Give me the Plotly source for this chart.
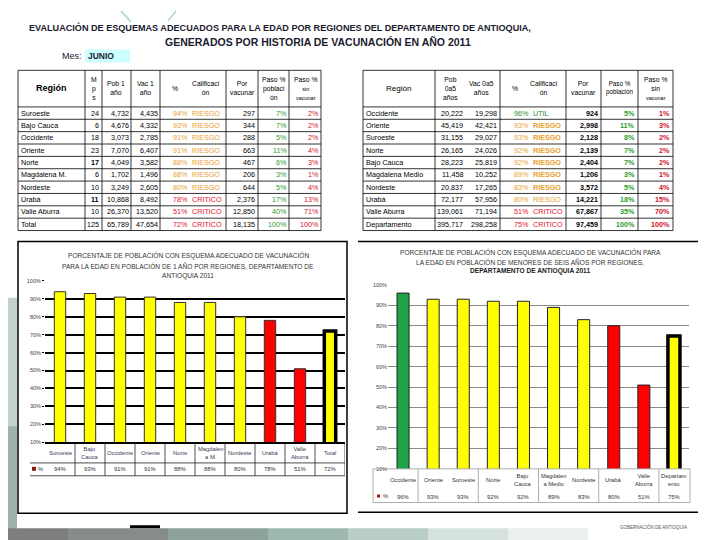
import plotly.graph_objects as go

# ---------------- DATA ----------------
t1_regions = ["Suroeste", "Bajo Cauca", "Occidente", "Oriente", "Norte", "Magdalena M.",
              "Nordeste", "Urabá", "Valle Aburra", "Total"]
t1_mps = [24, 6, 18, 23, 17, 6, 10, 11, 10, 125]
t1_pob = [4732, 4676, 3073, 7070, 4049, 1702, 3249, 10868, 26370, 65789]
t1_vac = [4435, 4332, 2785, 6407, 3582, 1496, 2605, 8492, 13520, 47654]
t1_pct = [94, 93, 91, 91, 88, 88, 80, 78, 51, 72]
t1_calif = ["RIESGO"] * 7 + ["CRITICO"] * 3
t1_porvac = [297, 344, 288, 663, 467, 206, 644, 2376, 12850, 18135]
t1_pasopob = [7, 7, 5, 11, 6, 3, 5, 17, 40, 100]
t1_pasosin = [2, 2, 2, 4, 3, 1, 4, 13, 71, 100]

t2_regions = ["Occidente", "Oriente", "Suroeste", "Norte", "Bajo Cauca", "Magdalena Medio",
              "Nordeste", "Urabá", "Valle Aburra", "Departamento"]
t2_pob = [20222, 45419, 31155, 26165, 28223, 11458, 20837, 72177, 139061, 395717]
t2_vac = [19298, 42421, 29027, 24026, 25819, 10252, 17265, 57956, 71194, 298258]
t2_pct = [96, 93, 93, 92, 92, 89, 83, 80, 51, 75]
t2_calif = ["UTIL"] + ["RIESGO"] * 7 + ["CRITICO"] * 2
t2_porvac = [924, 2998, 2128, 2139, 2404, 1206, 3572, 14221, 67867, 97459]
t2_pasopob = [5, 11, 8, 7, 7, 3, 5, 18, 35, 100]
t2_pasosin = [1, 3, 2, 2, 2, 1, 4, 15, 70, 100]

c1_categories = ["Suroeste", "Bajo Cauca", "Occidente", "Oriente", "Norte", "Magdalena M.",
                 "Nordeste", "Urabá", "Valle Aburra", "Total"]
c1_labels = ["Suroeste", "Bajo<br>Cauca", "Occidente", "Oriente", "Norte", "Magdalen<br>a M.",
             "Nordeste", "Urabá", "Valle<br>Aburra", "Total"]
c1_values = [94, 93, 91, 91, 88, 88, 80, 78, 51, 72]

c2_categories = ["Occidente", "Oriente", "Suroeste", "Norte", "Bajo Cauca", "Magdalena Medio",
                 "Nordeste", "Urabá", "Valle Aburra", "Departamento"]
c2_labels = ["Occidente", "Oriente", "Suroeste", "Norte", "Bajo<br>Cauca", "Magdalen<br>a Medio",
             "Nordeste", "Urabá", "Valle<br>Aburra", "Departam<br>ento"]
c2_values = [96, 93, 93, 92, 92, 89, 83, 80, 51, 75]

# ---------------- STYLE ----------------
W, H = 720, 540
FN = "Liberation Sans, Arial, sans-serif"
YEL, RED, GRN = "#FFFF00", "#FF0000", "#1FA347"
c1_colors = [YEL] * 7 + [RED] * 2 + [YEL]
c2_colors = [GRN] + [YEL] * 6 + [RED] * 2 + [YEL]
ORANGE, CRIT, UTIL = "#E8A030", "#E3102E", "#1E8C1E"
PGREEN, PRED = "#2E9B2E", "#D3102A"
calif_color = {"RIESGO": ORANGE, "CRITICO": CRIT, "UTIL": UTIL}
TS = 7.2   # table font size
HS = 6.8   # table header font size


def px(x):
    return x / W


def py(y):
    return 1 - y / H


ann = []
shp = []


def txt(x, y, s, size=TS, color="black", anchor="center", bold=False, family=FN, **kw):
    if bold:
        s = "<b>" + s + "</b>"
    d = dict(x=px(x), y=py(y), xref="paper", yref="paper", text=s, showarrow=False,
             xanchor=anchor, yanchor="middle", font=dict(size=size, color=color, family=family),
             borderpad=0)
    d.update(kw)
    ann.append(d)


def line(x0, y0, x1, y1, color="black", width=1, layer="above"):
    shp.append(dict(type="line", xref="paper", yref="paper", x0=px(x0), y0=py(y0),
                    x1=px(x1), y1=py(y1), line=dict(color=color, width=width), layer=layer))


def rect(x0, y0, x1, y1, fill, color=None, width=0, layer="below"):
    shp.append(dict(type="rect", xref="paper", yref="paper", x0=px(x0), y0=py(y0),
                    x1=px(x1), y1=py(y1), fillcolor=fill,
                    line=dict(color=color or fill, width=width), layer=layer))


# ---------------- background decoration ----------------
rect(0, 290, 9, 540, "#c3d1ce")
rect(0, 420, 9, 540, "#9db2ad")
bands = [(0, 60, "#7c7f7d"), (60, 160, "#878c8a"), (160, 260, "#8ea29d"), (260, 340, "#9db8b0"),
         (340, 420, "#b9cdc7"), (420, 500, "#d6e2de"), (500, 580, "#eaf0ee")]
for a, b, c in bands:
    rect(a, 523, b, 540, c)
rect(122, 520, 152, 523, "black", layer="above")
txt(645, 522, "GOBERNACIÓN DE ANTIOQUIA", size=4.5, color="#555")
line(113, 0, 123, 11, color="#a8d4d2", width=1.5, layer="below")
line(168, 0, 160, 10, color="#a8d4d2", width=1.5, layer="below")

# ---------------- titles ----------------
TC = "#1b1b2f"
txt(272, 17, "EVALUACIÓN DE ESQUEMAS ADECUADOS PARA LA EDAD POR REGIONES DEL DEPARTAMENTO DE ANTIOQUIA,",
    size=9.1, color=TC, bold=True)
txt(310, 31, "GENERADOS POR HISTORIA DE VACUNACIÓN EN AÑO 2011", size=10.5, color=TC, bold=True)
rect(77, 39, 122, 52, "#CCFFFF")
txt(75, 45.5, "Mes:", size=9, color=TC, anchor="right")
txt(79, 45.5, "JUNIO", size=8.5, color=TC, anchor="left", bold=True)

# ---------------- tables ----------------
TOP, HB, RH = 60, 97, 12.5
rows_y = [HB + RH * (i + 0.5) for i in range(10)]
BOT = HB + RH * 10


def pct(v):
    return f"{v}%"


def num(v):
    return f"{v:,}"


# left table grid
for xe in [10, 77, 94, 123, 152, 218, 250, 281, 313]:
    line(xe, TOP, xe, BOT, width=0.8)
for ye in [TOP, HB] + [HB + RH * k for k in range(1, 11)]:
    line(10, ye, 313, ye, width=0.8)

txt(43, 78, "Región", size=9, bold=True)
txt(85.5, 78, "M<br>p<br>s", size=HS)
txt(108, 78, "Pob 1<br>año", size=HS)
txt(137.5, 78, "Vac 1<br>año", size=HS)
txt(167, 78, "%", size=HS)
txt(198, 78, "Calificaci<br>ón", size=HS)
txt(234, 78, "Por<br>vacunar", size=HS)
txt(265.5, 78, "Paso %<br>poblaci<br>ón", size=HS)
txt(297, 78, "Paso %<br><span style='font-size:5.5px'>sin<br>vacunar</span>", size=HS)

for i, yy in enumerate(rows_y):
    txt(12, yy, t1_regions[i], anchor="left")
    txt(92, yy, str(t1_mps[i]), anchor="right", bold=(t1_regions[i] in ("Norte", "Urabá")))
    txt(121.5, yy, num(t1_pob[i]), anchor="right")
    txt(150.5, yy, num(t1_vac[i]), anchor="right")
    cc = calif_color[t1_calif[i]]
    txt(181, yy, pct(t1_pct[i]), anchor="right", color=cc)
    txt(183, yy, t1_calif[i], anchor="left", color=cc)
    txt(248, yy, num(t1_porvac[i]), anchor="right")
    txt(279.5, yy, pct(t1_pasopob[i]), anchor="right", color=PGREEN)
    txt(311.5, yy, pct(t1_pasosin[i]), anchor="right", color=PRED)

# right table grid
for xe in [355, 427, 492, 558, 593, 630, 665]:
    line(xe, TOP, xe, BOT, width=0.8)
for ye in [TOP, HB] + [HB + RH * k for k in range(1, 11)]:
    line(355, ye, 665, ye, width=0.8)

txt(391, 78, "Región", size=8)
txt(442, 78, "Pob<br>0a5<br>años", size=HS)
txt(473, 78, "Vac 0a5<br>años", size=HS)
txt(507, 78, "%", size=HS)
txt(536, 78, "Calificaci<br>ón", size=HS)
txt(575.5, 78, "Por<br>vacunar", size=HS)
txt(611.5, 78, "Paso %<br>población", size=6.3)
txt(647.5, 78, "Paso %<br>sin<br><span style='font-size:5.5px'>vacunar</span>", size=HS)

for i, yy in enumerate(rows_y):
    txt(357, yy, t2_regions[i], anchor="left")
    txt(456, yy, num(t2_pob[i]), anchor="right")
    txt(490, yy, num(t2_vac[i]), anchor="right")
    cc = calif_color[t2_calif[i]]
    txt(522, yy, pct(t2_pct[i]), anchor="right", color=cc)
    txt(524, yy, t2_calif[i], anchor="left", color=cc, bold=(t2_calif[i] == "RIESGO" and i < 7))
    txt(591, yy, num(t2_porvac[i]), anchor="right", bold=True)
    txt(628, yy, pct(t2_pasopob[i]), anchor="right", color=PGREEN, bold=True)
    txt(663, yy, pct(t2_pasosin[i]), anchor="right", color=PRED, bold=True)

# ---------------- chart frames and titles ----------------
rect(10, 233, 339, 508, "rgba(0,0,0,0)", color="black", width=1.5, layer="above")
line(350, 233, 690, 233, width=1.5)
line(350, 507, 690, 507, width=1.5)

CT = 6.6
txt(180, 247, "PORCENTAJE DE POBLACIÓN CON ESQUEMA ADECUADO DE VACUNACIÓN", size=CT, color="#333")
txt(180, 258, "PARA LA EDAD EN POBLACIÓN DE 1 AÑO POR REGIONES, DEPARTAMENTO DE", size=CT, color="#333")
txt(180, 268, "ANTIOQUIA 2011", size=CT, color="#333")
txt(522, 244, "PORCENTAJE DE POBLACIÓN CON ESQUEMA ADECUADO DE VACUNACIÓN PARA", size=CT, color="#333")
txt(522, 253.5, "LA EDAD EN POBLACIÓN DE MENORES DE SEIS AÑOS POR REGIONES,", size=CT, color="#333")
txt(522, 263, "DEPARTAMENTO DE ANTIOQUIA 2011", size=CT, color="#222", bold=True)

# ---------------- bars ----------------
fig = go.Figure()
fig.add_trace(go.Bar(x=c1_categories, y=c1_values, xaxis="x", yaxis="y", width=0.38,
                     marker=dict(color=c1_colors, line=dict(color=["#333"] * 9 + ["black"],
                                                            width=[1] * 9 + [3.5])),
                     showlegend=False, hoverinfo="x+y"))
fig.add_trace(go.Bar(x=c2_categories, y=c2_values, xaxis="x2", yaxis="y2", width=0.4,
                     marker=dict(color=c2_colors, line=dict(color=["#222"] * 9 + ["black"],
                                                            width=[1] * 9 + [3.5])),
                     showlegend=False, hoverinfo="x+y"))

# data tables under the charts (positioned with category axes)
for i, cat in enumerate(c1_categories):
    ann.append(dict(x=cat, xref="x", y=py(447), yref="paper", text=c1_labels[i], showarrow=False,
                    font=dict(size=5.8, color="#3a3a5a", family=FN), yanchor="middle"))
    ann.append(dict(x=cat, xref="x", y=py(463.5), yref="paper", text=pct(c1_values[i]), showarrow=False,
                    font=dict(size=5.8, color="#333", family=FN), yanchor="middle"))
for k in range(10):
    shp.append(dict(type="line", xref="x", yref="paper", x0=k + 0.5, x1=k + 0.5,
                    y0=py(436), y1=py(470), line=dict(color="#222", width=0.8)))
line(22, 457, 337, 457, color="#222", width=0.8)
line(22, 470, 337, 470, color="#222", width=0.8)
rect(24, 461, 28, 465, "#8B1A1A", layer="above")
txt(29, 463.5, "%", size=5.8, color="#333", anchor="left")

for i, cat in enumerate(c2_categories):
    ann.append(dict(x=cat, xref="x2", y=py(474), yref="paper", text=c2_labels[i], showarrow=False,
                    font=dict(size=5.8, color="#333", family=FN), yanchor="middle"))
    ann.append(dict(x=cat, xref="x2", y=py(491), yref="paper", text=pct(c2_values[i]), showarrow=False,
                    font=dict(size=5.8, color="#333", family=FN), yanchor="middle"))
for k in [0, 2, 4, 6, 8]:
    shp.append(dict(type="line", xref="x2", yref="paper", x0=k + 0.5, x1=k + 0.5,
                    y0=py(463), y1=py(497), line=dict(color="#999", width=0.8)))
rect(365, 463, 682, 497, "rgba(0,0,0,0)", color="#999", width=0.8, layer="above")
rect(369, 489, 372, 492, "#B01010", layer="above")
txt(374, 490.5, "%", size=5.8, color="#333", anchor="left")

fig.update_layout(
    width=W, height=H, margin=dict(l=0, r=0, t=0, b=0),
    paper_bgcolor="white", plot_bgcolor="rgba(0,0,0,0)",
    bargap=0.6,
    xaxis=dict(domain=[px(37), px(337)], type="category", showticklabels=False, ticks="",
               showgrid=False, showline=True, linecolor="black", linewidth=1.5, anchor="y",
               range=[-0.5, 9.5]),
    yaxis=dict(domain=[py(436), py(273)], range=[10, 100], dtick=10, ticksuffix="%",
               tickfont=dict(size=5.5, color="#444", family=FN), showgrid=True, gridcolor="black",
               gridwidth=1.5, zeroline=False, ticks="outside", ticklen=2, tickcolor="black",
               anchor="x"),
    xaxis2=dict(domain=[px(380), px(681)], type="category", showticklabels=False, ticks="",
                showgrid=False, showline=False, anchor="y2", range=[-0.5, 9.5]),
    yaxis2=dict(domain=[py(463), py(277)], range=[10, 100], dtick=10, ticksuffix="%",
                tickfont=dict(size=5.5, color="#444", family=FN), showgrid=True, gridcolor="#8a8a8a",
                gridwidth=1, zeroline=False, ticks="", anchor="x2"),
    annotations=ann, shapes=shp,
)

fig.write_html("out.html")
